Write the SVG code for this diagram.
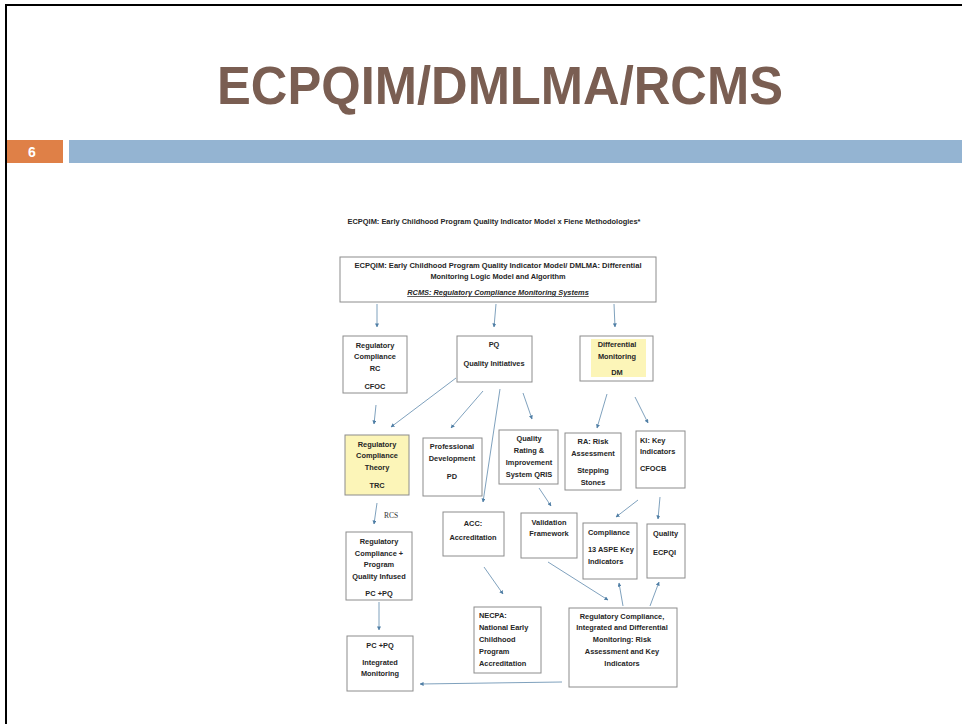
<svg xmlns="http://www.w3.org/2000/svg" width="962" height="724" viewBox="0 0 962 724">
<defs>
<style>
.t{font-family:"Liberation Sans",Arial,sans-serif;font-weight:bold;font-size:7.4px;fill:#262626}
.c{text-anchor:middle}
.b{fill:#fff;stroke:#8c8c8c;stroke-width:1}
.y{fill:#fcf5b8}
.e{fill:none;stroke:#7096b5;stroke-width:0.9;marker-end:url(#ah)}
</style>
<marker id="ah" viewBox="0 0 10 10" refX="9" refY="5" markerWidth="4" markerHeight="4" markerUnits="userSpaceOnUse" orient="auto">
<path d="M0,0 L10,5 L0,10 z" fill="#4f7ea5"/>
</marker>
</defs>
<rect width="962" height="724" fill="#fff"/>
<g id="frame">
<line x1="6" y1="5" x2="962" y2="5" stroke="#000" stroke-width="2"/>
<line x1="6" y1="4" x2="6" y2="724" stroke="#000" stroke-width="2"/>
</g>
<g id="slide-title">
<text x="500" y="104" text-anchor="middle" font-family="'Liberation Sans',Arial,sans-serif" font-weight="bold" font-size="53" fill="#7a5e52" textLength="566" lengthAdjust="spacingAndGlyphs">ECPQIM/DMLMA/RCMS</text>
</g>
<g id="band">
<rect x="7" y="140" width="56" height="23" fill="#df8047"/>
<text x="32" y="157" text-anchor="middle" font-family="'Liberation Sans',Arial,sans-serif" font-weight="bold" font-size="14" fill="#fff">6</text>
<rect x="69" y="140" width="893" height="23" fill="#94b4d2"/>
</g>
<g id="header">
<text class="t c" x="494" y="224" textLength="293" lengthAdjust="spacingAndGlyphs">ECPQIM: Early Childhood Program Quality Indicator Model x Fiene Methodologies*</text>
</g>
<g id="top">
<rect class="b" x="340" y="257" width="316" height="45"/>
<text class="t c" x="498" y="268" textLength="287" lengthAdjust="spacingAndGlyphs">ECPQIM: Early Childhood Program Quality Indicator Model/ DMLMA: Differential</text>
<text class="t c" x="498" y="279">Monitoring Logic Model and Algorithm</text>
<text class="t c" x="498" y="295" font-style="italic" text-decoration="underline">RCMS: Regulatory Compliance Monitoring Systems</text>
</g>
<g id="rc">
<rect class="b" x="343" y="336" width="64" height="57"/>
<text class="t c" x="375" y="348">Regulatory</text>
<text class="t c" x="375" y="359">Compliance</text>
<text class="t c" x="375" y="371">RC</text>
<text class="t c" x="375" y="389">CFOC</text>
</g>
<g id="pq">
<rect class="b" x="457" y="336" width="75" height="46"/>
<text class="t c" x="494" y="347">PQ</text>
<text class="t c" x="494" y="366">Quality Initiatives</text>
</g>
<g id="dm">
<rect class="b" x="580" y="336" width="73" height="45"/>
<rect class="y" x="591" y="339" width="55" height="38"/>
<text class="t c" x="617" y="347">Differential</text>
<text class="t c" x="617" y="359">Monitoring</text>
<text class="t c" x="617" y="375">DM</text>
</g>
<g id="trc">
<rect class="b" x="345" y="435" width="64" height="60" style="fill:#fcf5b8"/>
<text class="t c" x="377" y="447">Regulatory</text>
<text class="t c" x="377" y="458">Compliance</text>
<text class="t c" x="377" y="470">Theory</text>
<text class="t c" x="377" y="488">TRC</text>
</g>
<g id="pd">
<rect class="b" x="423" y="438" width="59" height="58"/>
<text class="t c" x="452" y="449">Professional</text>
<text class="t c" x="452" y="461">Development</text>
<text class="t c" x="452" y="479">PD</text>
</g>
<g id="qris">
<rect class="b" x="499" y="430" width="59" height="54"/>
<text class="t c" x="529" y="441">Quality</text>
<text class="t c" x="529" y="453">Rating &amp;</text>
<text class="t c" x="529" y="465">Improvement</text>
<text class="t c" x="529" y="477">System QRIS</text>
</g>
<g id="ra">
<rect class="b" x="565" y="433" width="56" height="57"/>
<text class="t c" x="593" y="444">RA: Risk</text>
<text class="t c" x="593" y="456">Assessment</text>
<text class="t c" x="593" y="473">Stepping</text>
<text class="t c" x="593" y="485">Stones</text>
</g>
<g id="ki">
<rect class="b" x="636" y="431" width="49" height="57"/>
<text class="t" x="640" y="443">KI: Key</text>
<text class="t" x="640" y="454">Indicators</text>
<text class="t" x="640" y="471">CFOCB</text>
</g>
<g id="acc">
<rect class="b" x="443" y="512" width="61" height="44"/>
<text class="t c" x="473" y="526">ACC:</text>
<text class="t c" x="473" y="540">Accreditation</text>
</g>
<g id="val">
<rect class="b" x="521" y="513" width="56" height="45"/>
<text class="t c" x="549" y="525">Validation</text>
<text class="t c" x="549" y="536">Framework</text>
</g>
<g id="comp">
<rect class="b" x="583" y="523" width="54" height="56"/>
<text class="t" x="588" y="535">Compliance</text>
<text class="t" x="588" y="552">13 ASPE Key</text>
<text class="t" x="588" y="564">Indicators</text>
</g>
<g id="qual">
<rect class="b" x="647" y="524" width="38" height="54"/>
<text class="t" x="653" y="536">Quality</text>
<text class="t" x="653" y="555">ECPQI</text>
</g>
<g id="rcpq">
<rect class="b" x="346" y="532" width="66" height="68"/>
<text class="t c" x="379" y="544">Regulatory</text>
<text class="t c" x="379" y="556">Compliance +</text>
<text class="t c" x="379" y="567">Program</text>
<text class="t c" x="379" y="579">Quality Infused</text>
<text class="t c" x="379" y="596">PC +PQ</text>
</g>
<g id="integ">
<rect class="b" x="347" y="636" width="66" height="55"/>
<text class="t c" x="380" y="648">PC +PQ</text>
<text class="t c" x="380" y="665">Integrated</text>
<text class="t c" x="380" y="676">Monitoring</text>
</g>
<g id="necpa">
<rect class="b" x="474" y="607" width="67" height="66"/>
<text class="t" x="479" y="618">NECPA:</text>
<text class="t" x="479" y="630">National Early</text>
<text class="t" x="479" y="642">Childhood</text>
<text class="t" x="479" y="654">Program</text>
<text class="t" x="479" y="666">Accreditation</text>
</g>
<g id="rcidm">
<rect class="b" x="569" y="608" width="108" height="79"/>
<text class="t c" x="622" y="619">Regulatory Compliance,</text>
<text class="t c" x="622" y="630">Integrated and Differential</text>
<text class="t c" x="622" y="642">Monitoring: Risk</text>
<text class="t c" x="622" y="654">Assessment and Key</text>
<text class="t c" x="622" y="666">Indicators</text>
</g>
<g id="connectors">
<line class="e" x1="377" y1="304" x2="377" y2="327"/>
<line class="e" x1="496" y1="304" x2="494" y2="327"/>
<line class="e" x1="614" y1="304" x2="615" y2="327"/>
<line class="e" x1="376" y1="405" x2="374" y2="424"/>
<line class="e" x1="456" y1="378" x2="391" y2="427"/>
<line class="e" x1="483" y1="391" x2="451" y2="428"/>
<line class="e" x1="500" y1="389" x2="483" y2="502"/>
<line class="e" x1="523" y1="393" x2="532" y2="419"/>
<line class="e" x1="607" y1="394" x2="597" y2="428"/>
<line class="e" x1="635" y1="397" x2="648" y2="423"/>
<line class="e" x1="377" y1="503" x2="374" y2="524"/>
<line class="e" x1="539" y1="488" x2="551" y2="506"/>
<line class="e" x1="638" y1="500" x2="616" y2="517"/>
<line class="e" x1="660" y1="497" x2="658" y2="519"/>
<line class="e" x1="379" y1="602" x2="379" y2="630"/>
<line class="e" x1="484" y1="567" x2="503" y2="594"/>
<line class="e" x1="548" y1="562" x2="608" y2="600"/>
<line class="e" x1="623" y1="606" x2="619" y2="583"/>
<line class="e" x1="650" y1="606" x2="659" y2="582"/>
<line class="e" x1="562" y1="682" x2="420" y2="684"/>
</g>
<text x="391" y="518" text-anchor="middle" font-family="'Liberation Serif','Times New Roman',serif" font-size="7.5" fill="#333">RCS</text>
</svg>
